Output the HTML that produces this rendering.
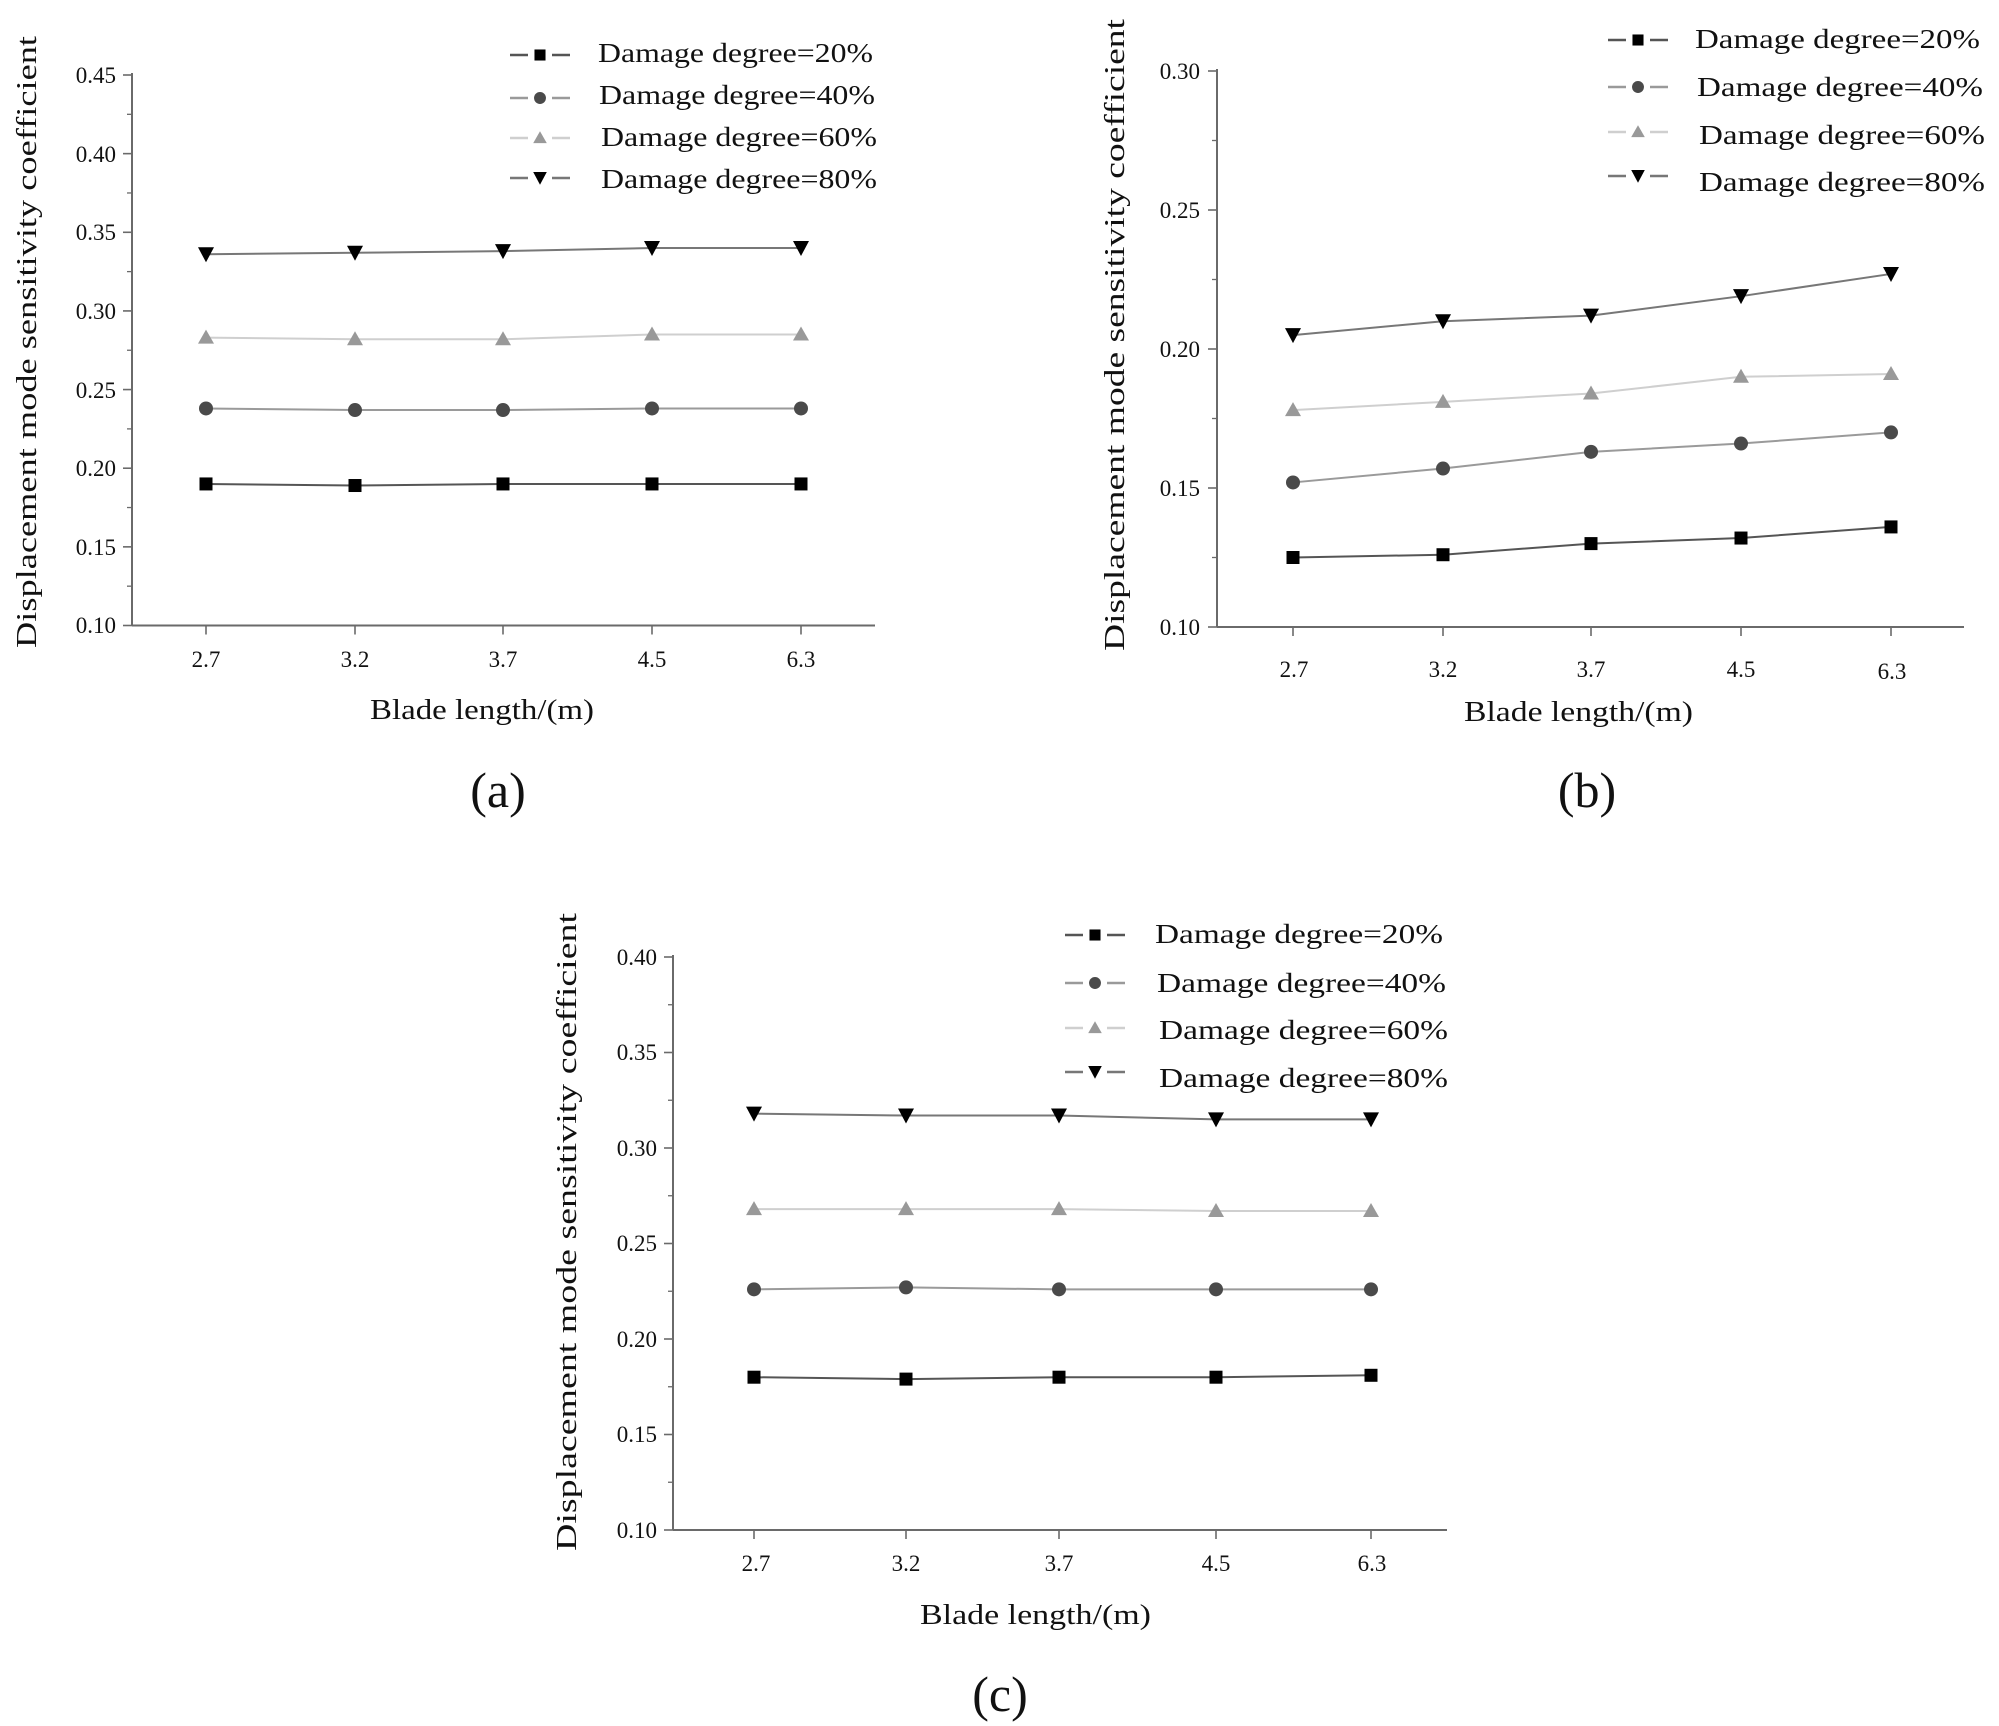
<!DOCTYPE html>
<html><head><meta charset="utf-8"><style>
html,body{margin:0;padding:0;background:#fff}
svg{display:block}
text{font-family:"Liberation Serif",serif;fill:#111}
.tk{font-size:23px}
.lg{font-size:27px}
.ax{font-size:28px}
.cap{font-size:50px}
</style></head><body>
<svg id="s" width="1999" height="1726" viewBox="0 0 1999 1726" xmlns="http://www.w3.org/2000/svg">
<rect width="1999" height="1726" fill="#fff"/>
<g id="shapes"></g>
<g class="tk" text-anchor="end">
<text x="116" y="633">0.10</text><text x="116" y="555">0.15</text><text x="116" y="476">0.20</text><text x="116" y="398">0.25</text>
<text x="116" y="319">0.30</text><text x="116" y="240">0.35</text><text x="116" y="162">0.40</text><text x="116" y="83">0.45</text>
</g>
<g class="tk" text-anchor="middle">
<text x="206" y="667">2.7</text><text x="355" y="667">3.2</text><text x="503" y="667">3.7</text><text x="652" y="667">4.5</text><text x="801" y="667">6.3</text>
</g>
<text class="ax" x="370" y="719" textLength="224" lengthAdjust="spacingAndGlyphs">Blade length/(m)</text>
<text class="ax" transform="translate(36,648) rotate(-90)" textLength="612" lengthAdjust="spacingAndGlyphs">Displacement mode sensitivity  coefficient</text>
<g class="lg">
<text x="598" y="62" textLength="275" lengthAdjust="spacingAndGlyphs">Damage  degree=20%</text>
<text x="599" y="104" textLength="276" lengthAdjust="spacingAndGlyphs">Damage  degree=40%</text>
<text x="601" y="146" textLength="276" lengthAdjust="spacingAndGlyphs">Damage  degree=60%</text>
<text x="601" y="188" textLength="276" lengthAdjust="spacingAndGlyphs">Damage  degree=80%</text>
</g>
<text class="cap" x="498" y="807" text-anchor="middle">(a)</text>

<g class="tk" text-anchor="end">
<text x="1200" y="635">0.10</text><text x="1200" y="496">0.15</text><text x="1200" y="357">0.20</text><text x="1200" y="218">0.25</text><text x="1200" y="79">0.30</text>
</g>
<g class="tk" text-anchor="middle">
<text x="1294" y="677">2.7</text><text x="1443" y="677">3.2</text><text x="1591" y="677">3.7</text><text x="1741" y="677">4.5</text><text x="1892" y="679">6.3</text>
</g>
<text class="ax" x="1464" y="721" textLength="229" lengthAdjust="spacingAndGlyphs">Blade length/(m)</text>
<text class="ax" transform="translate(1124,651) rotate(-90)" textLength="632" lengthAdjust="spacingAndGlyphs">Displacement mode sensitivity  coefficient</text>
<g class="lg">
<text x="1695" y="48" textLength="285" lengthAdjust="spacingAndGlyphs">Damage  degree=20%</text>
<text x="1697" y="96" textLength="286" lengthAdjust="spacingAndGlyphs">Damage  degree=40%</text>
<text x="1699" y="144" textLength="286" lengthAdjust="spacingAndGlyphs">Damage  degree=60%</text>
<text x="1699" y="191" textLength="286" lengthAdjust="spacingAndGlyphs">Damage  degree=80%</text>
</g>
<text class="cap" x="1587" y="807" text-anchor="middle">(b)</text>

<g class="tk" text-anchor="end">
<text x="657" y="1538">0.10</text><text x="657" y="1442">0.15</text><text x="657" y="1347">0.20</text><text x="657" y="1251">0.25</text>
<text x="657" y="1156">0.30</text><text x="657" y="1060">0.35</text><text x="657" y="965">0.40</text>
</g>
<g class="tk" text-anchor="middle">
<text x="756" y="1571">2.7</text><text x="906" y="1571">3.2</text><text x="1059" y="1571">3.7</text><text x="1216" y="1571">4.5</text><text x="1372" y="1571">6.3</text>
</g>
<text class="ax" x="920" y="1624" textLength="231" lengthAdjust="spacingAndGlyphs">Blade length/(m)</text>
<text class="ax" transform="translate(576,1551) rotate(-90)" textLength="638" lengthAdjust="spacingAndGlyphs">Displacement mode sensitivity  coefficient</text>
<g class="lg">
<text x="1155" y="943" textLength="288" lengthAdjust="spacingAndGlyphs">Damage  degree=20%</text>
<text x="1157" y="992" textLength="289" lengthAdjust="spacingAndGlyphs">Damage  degree=40%</text>
<text x="1159" y="1039" textLength="289" lengthAdjust="spacingAndGlyphs">Damage  degree=60%</text>
<text x="1159" y="1087" textLength="289" lengthAdjust="spacingAndGlyphs">Damage  degree=80%</text>
</g>
<text class="cap" x="1000" y="1711" text-anchor="middle">(c)</text>
</svg>
<script>
(function(){
var NS="http://www.w3.org/2000/svg",G=document.getElementById("shapes");
function el(t,a){var e=document.createElementNS(NS,t);for(var k in a)e.setAttribute(k,a[k]);G.appendChild(e);return e;}
var styles=[
 {line:"#555",fill:"#000",m:"sq"},
 {line:"#9a9a9a",fill:"#4a4a4a",m:"ci"},
 {line:"#cfcfcf",fill:"#999",m:"tu"},
 {line:"#777",fill:"#000",m:"td"}];
function marker(m,x,y,f,s){
 s=s||1;
 if(m=="sq")el("rect",{x:x-6.5*s,y:y-6.5*s,width:13*s,height:13*s,fill:f});
 else if(m=="ci")el("circle",{cx:x,cy:y,r:7*s,fill:f});
 else if(m=="tu")el("polygon",{points:(x-8*s)+","+(y+6*s)+" "+(x+8*s)+","+(y+6*s)+" "+x+","+(y-8*s),fill:f});
 else el("polygon",{points:(x-8*s)+","+(y-7*s)+" "+(x+8*s)+","+(y-7*s)+" "+x+","+(y+8*s),fill:f});
}
function chart(c){
 var ax="#6a6a6a";
 el("line",{x1:c.x0,y1:c.yTop-2,x2:c.x0,y2:c.yBot,stroke:ax,"stroke-width":2});
 el("line",{x1:c.x0,y1:c.yBot,x2:c.xEnd,y2:c.yBot,stroke:ax,"stroke-width":2});
 var n=c.ticks.length;
 for(var i=0;i<n;i++){
  var y=c.yBot-(c.yBot-c.yTop)*i/(n-1);
  el("line",{x1:c.x0-9,y1:y,x2:c.x0,y2:y,stroke:ax,"stroke-width":1.6});
  if(i<n-1){var ym=y-(c.yBot-c.yTop)/(n-1)/2;el("line",{x1:c.x0-5,y1:ym,x2:c.x0,y2:ym,stroke:ax,"stroke-width":1.3});}
 }
 c.xs.forEach(function(x){el("line",{x1:x,y1:c.yBot,x2:x,y2:c.yBot+9,stroke:ax,"stroke-width":1.6});});
 function Y(v){return c.yBot-(v-c.vmin)/(c.vmax-c.vmin)*(c.yBot-c.yTop);}
 c.data.forEach(function(d,k){
  var st=styles[k],pts=d.map(function(v,i){return c.xs[i]+","+Y(v);}).join(" ");
  el("polyline",{points:pts,fill:"none",stroke:st.line,"stroke-width":2});
  d.forEach(function(v,i){marker(st.m,c.xs[i],Y(v),st.fill);});
 });
 c.leg.forEach(function(y,k){
  var st=styles[k],mx=c.lx;
  el("line",{x1:mx-30,y1:y,x2:mx-12,y2:y,stroke:st.line,"stroke-width":2.5});
  el("line",{x1:mx+12,y1:y,x2:mx+30,y2:y,stroke:st.line,"stroke-width":2.5});
  marker(st.m,mx,y,st.fill,0.85);
 });
}
chart({x0:132,xEnd:875,yTop:75,yBot:625.5,ticks:[0,1,2,3,4,5,6,7],vmin:0.10,vmax:0.45,
 xs:[206,355,503,652,801],
 data:[[0.190,0.189,0.190,0.190,0.190],[0.238,0.237,0.237,0.238,0.238],[0.283,0.282,0.282,0.285,0.285],[0.336,0.337,0.338,0.340,0.340]],
 lx:540,leg:[55,98,138,178]});
chart({x0:1217,xEnd:1964,yTop:71,yBot:627,ticks:[0,1,2,3,4],vmin:0.10,vmax:0.30,
 xs:[1293,1443,1591,1741,1891],
 data:[[0.125,0.126,0.130,0.132,0.136],[0.152,0.157,0.163,0.166,0.170],[0.178,0.181,0.184,0.190,0.191],[0.205,0.210,0.212,0.219,0.227]],
 lx:1638,leg:[40,87,132,176]});
chart({x0:673,xEnd:1447,yTop:957,yBot:1530,ticks:[0,1,2,3,4,5,6],vmin:0.10,vmax:0.40,
 xs:[754,906,1059,1216,1371],
 data:[[0.180,0.179,0.180,0.180,0.181],[0.226,0.227,0.226,0.226,0.226],[0.268,0.268,0.268,0.267,0.267],[0.318,0.317,0.317,0.315,0.315]],
 lx:1095,leg:[935,983,1028,1072]});
})();
</script>
</body></html>
